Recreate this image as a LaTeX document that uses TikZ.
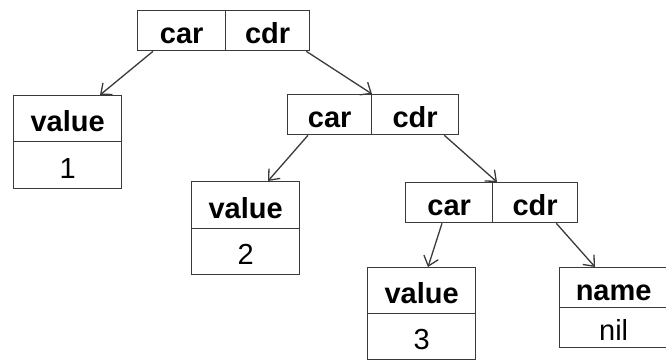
\documentclass[tikz,border=0pt]{standalone}
\usepackage{fontspec}
\setmainfont{Liberation Sans}
\usetikzlibrary{arrows.meta,calc}
\definecolor{linec}{HTML}{3A3A3A}
\tikzset{
  cell/.style={draw=linec, line width=1.3pt, inner sep=0pt, anchor=north west,
    minimum height=40pt, text height=26pt, text depth=0pt, text=black,
    font=\fontsize{29}{29}\selectfont\bfseries},
  consl/.style={cell, minimum width=87pt},
  vhead/.style={cell, minimum width=108pt, minimum height=46pt},
  vbody/.style={cell, minimum width=108pt, minimum height=46pt, font=\fontsize{29}{29}\selectfont},
  ptr/.style={draw=linec, line width=1.3pt, -{Straight Barb[length=9pt,width=15pt,line width=1.3pt]}}
}
\begin{document}
\begin{tikzpicture}[x=1pt,y=-1pt]
\useasboundingbox (0,0) rectangle (666,359);
% cons 1
\node[consl, minimum width=88pt] (c1a) at (137,10) {car};
\node[consl, minimum width=84pt] (c1b) at (225,10) {cdr};
% value 1
\node[vhead] (v1h) at (13,95) {value};
\node[vbody, minimum height=47pt] (v1b) at (13,141) {1};
% cons 2
\node[consl, minimum width=84pt] (c2a) at (287,94) {car};
\node[consl, minimum width=87pt] (c2b) at (371,94) {cdr};
% value 2
\node[vhead, minimum height=47pt] (v2h) at (191,181) {value};
\node[vbody] (v2b) at (191,228) {2};
% cons 3
\node[consl, minimum width=87pt] (c3a) at (405,182) {car};
\node[consl, minimum width=85pt] (c3b) at (492,182) {cdr};
% value 3
\node[vhead] (v3h) at (367,267) {value};
\node[vbody] (v3b) at (367,313) {3};
% name nil
\node[vhead, minimum height=40pt] (nh) at (559,267) {name};
\node[vbody, minimum height=40pt] (nb) at (559,307) {nil};
% pointers
\draw[ptr] ($(c1a.south west)+(16,0)$) -- ($(v1h.north west)+(87,0)$);
\draw[ptr] ($(c1b.south east)+(-4,0)$) -- ($(c2b.north west)+(1,0)$);
\draw[ptr] ($(c2a.south west)+(21,0)$) -- ($(v2h.north west)+(77,0)$);
\draw[ptr] ($(c2b.south east)+(-15,0)$) -- ($(c3b.north west)+(5,0)$);
\draw[ptr] ($(c3a.south west)+(37,0)$) -- ($(v3h.north west)+(61,0)$);
\draw[ptr] ($(c3b.south east)+(-22,0)$) -- ($(nh.north west)+(36,0)$);
\end{tikzpicture}
\end{document}
